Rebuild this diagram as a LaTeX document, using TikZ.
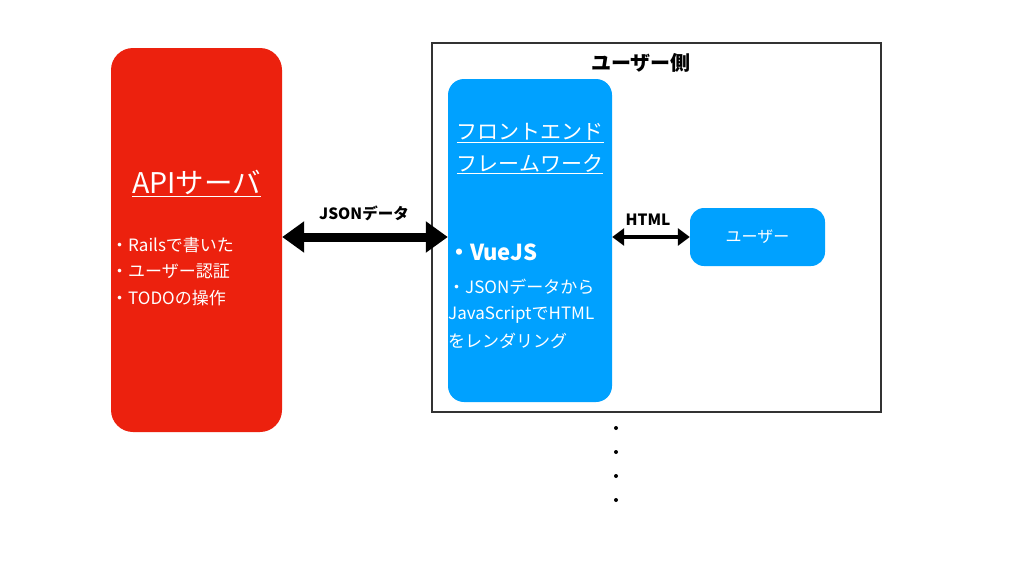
\documentclass[tikz,border=0pt]{standalone}
\usepackage{fontspec}
\setmainfont{Noto Sans CJK JP}
\usetikzlibrary{arrows.meta}
\definecolor{apired}{RGB}{236,33,14}
\definecolor{vueblue}{RGB}{0,161,255}
\definecolor{framegray}{RGB}{50,50,50}
\tikzset{
  box/.style={rounded corners=#1, inner sep=0pt},
  whitetext/.style={text=white, inner sep=0pt, anchor=west},
  bigarrow/.style={line width=9pt, {Triangle[length=22pt,width=30pt]}-{Triangle[length=22pt,width=30pt]}},
  smallarrow/.style={line width=4pt, {Triangle[length=12pt,width=17pt]}-{Triangle[length=12pt,width=17pt]}}
}
\newcommand{\fs}[1]{\fontsize{#1}{#1}\selectfont}
\begin{document}
\begin{tikzpicture}[x=1pt,y=-1pt]
        \useasboundingbox[fill=white] (0,0) rectangle (1024,576);

        % boxes
        \node[box=22pt, fill=apired, minimum width=171pt, minimum height=384pt] (api) at (196.5, 240) {};
        \node[draw=framegray, line width=1.6pt, minimum width=449pt, minimum height=369pt, inner sep=0pt] (side) at (656.5, 227.5) {};
        \node[box=16pt, fill=vueblue, minimum width=164pt, minimum height=323pt] (front) at (530, 240.5) {};
        \node[box=14pt, fill=vueblue, minimum width=135pt, minimum height=58pt] (user) at (757.5, 237) {};

        % texts
        \node[inner sep=0pt, font=\fs{20}\bfseries] (sidetitle) at (641, 63) {ユーザー側};
        \node[text=white, inner sep=0pt, font=\fs{28.5}] (apititle) at (196.5, 183) {\underline{APIサーバ}};
        \node[whitetext, font=\fs{17}] (rails) at (111, 245) {・Railsで書いた};
        \node[whitetext, font=\fs{17}] (auth) at (111, 271) {・ユーザー認証};
        \node[whitetext, font=\fs{17}] (todo) at (111, 298) {・TODOの操作};

        \node[text=white, inner sep=0pt, font=\fs{21}] (fe1) at (530, 133) {\underline{フロントエンド}};
        \node[text=white, inner sep=0pt, font=\fs{21}] (fe2) at (530, 164) {\underline{フレームワーク}};
        \node[whitetext, font=\fs{22}\bfseries] (vue) at (448, 252) {・VueJS};
        \node[whitetext, font=\fs{17}] (vue1) at (448, 287) {・JSONデータから};
        \node[whitetext, font=\fs{17}] (vue2) at (448, 315) {JavaScriptでHTML};
        \node[whitetext, font=\fs{17}] (vue3) at (448, 341) {をレンダリング};

        \node[text=white, inner sep=0pt, font=\fs{16}] (usertext) at (user) {ユーザー};

        % arrows
        \draw[bigarrow] (api.east |- user) -- (front.west |- user);
        \node[inner sep=0pt, font=\fs{15.5}\bfseries] (jsonlabel) at (364, 213) {JSONデータ};
        \draw[smallarrow] (front.east |- user) -- (user.west);
        \node[inner sep=0pt, font=\fs{15.5}\bfseries] (htmllabel) at (648, 220) {HTML};

        % dots
        \foreach \y in {428, 452, 476, 500}
          \fill (616, \y) circle (2pt);
\end{tikzpicture}
\end{document}
